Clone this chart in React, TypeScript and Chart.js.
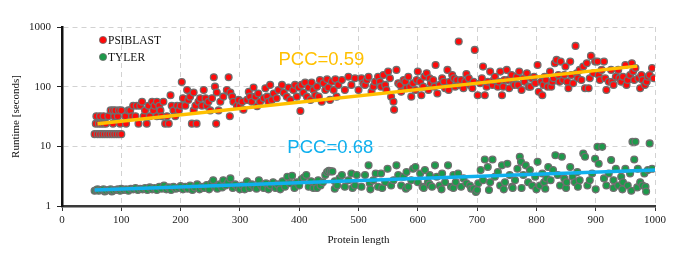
import { useEffect, useRef } from 'react';
import { Chart, registerables } from 'chart.js';

Chart.register(...registerables);

// ---- data ----
const xRange = [0, 1000];
const xStep = 100;
const yTickValues = [1, 10, 100, 1000];

const psiblastPoints: [number, number][] = [
  [55,16],[60,16],[64,16],[68,16],[72,16],[76,16],[80,16],[84,16],[88,16],[92,16],[96,16],[100,16],
  [57,24],[62,24],[66,24],[70,24],[74,24],[86,24],[98,24],
  [58,32],[64,32],[70,32],[78,32],[88,32],[94,32],
  [82,40],[86,40],[90,40],[96,40],[100,40],
  [107,32],[108,24],[112,40],[115,40],[118,32],[120,48],[124,32],[126,48],[129,24],[132,48],[135,56],[138,32],
  [140,40],[143,24],[146,48],[148,32],[152,56],[154,40],[156,48],[160,56],[160,32],[164,48],[166,40],[168,32],
  [171,56],[174,24],[177,32],[180,24],[183,72],[185,48],[188,40],[191,32],[194,48],[197,40],[200,48],
  [202,120],[204,64],[208,48],[211,88],[213,60],[216,68],[219,24],[222,40],[222,80],[225,48],[227,24],[230,56],
  [233,64],[236,48],[239,88],[242,64],[244,48],[247,56],[250,40],[253,64],[256,144],[258,100],[260,24],[261,80],
  [264,40],[267,56],[272,68],[278,88],[281,144],[283,32],[284,80],[287,68],[289,56],[295,48],[298,60],
  [300,47],[304,56],[306,41],[312,60],[315,82],[317,68],[320,56],[323,97],[326,68],[329,47],[331,77],[334,56],
  [340,64],[343,94],[346,68],[348,56],[351,107],[354,60],[357,77],[362,64],[365,88],[371,107],[374,79],[379,68],
  [382,97],[385,60],[390,88],[393,107],[396,68],[399,97],
  [402,39],[404,107],[407,79],[410,117],[413,68],[416,97],[419,60],[421,117],[424,88],[427,72],[430,100],[433,68],
  [435,129],[438,56],[441,114],[444,88],[447,133],[449,97],[452,60],[455,121],[458,88],[461,133],[463,68],[466,107],
  [472,129],[477,88],[483,147],[488,107],[494,138],[500,88],
  [505,138],[508,114],[511,107],[514,129],[517,147],[522,82],[525,100],[528,121],[533,147],[536,121],[538,100],
  [542,157],[545,107],[547,88],[550,179],[553,138],[555,68],[559,56],[560,41],[564,191],[567,114],[570,107],
  [572,82],[576,129],[579,121],[581,94],[584,147],[587,100],[589,68],[592,114],[596,88],[598,129],[600,179],
  [604,121],[606,72],[609,100],[611,147],[615,168],[618,88],[620,138],[622,114],[626,129],[628,100],[630,231],
  [633,77],[637,107],[641,138],[644,121],[646,94],[650,191],[652,88],[654,121],[658,157],[661,138],[663,100],
  [666,129],[669,570],[671,107],[673,129],[677,94],[680,121],[682,163],[686,138],[688,107],[692,94],[694,121],[696,413],
  [701,72],[705,114],[708,138],[710,217],[713,72],[716,100],[718,121],[722,179],[726,107],[728,129],[730,147],
  [735,100],[737,121],[739,179],[742,72],[744,100],[746,129],[750,191],[752,129],[754,94],[758,157],[761,121],
  [763,107],[767,147],[769,107],[771,179],[775,88],[778,138],[780,121],[784,168],[787,100],[790,100],[792,138],
  [796,147],[798,114],[802,231],
  [804,82],[808,121],[810,72],[812,107],[814,147],[816,129],[819,100],[823,179],[825,100],[827,121],[829,138],
  [831,247],[834,281],[837,157],[839,121],[841,263],[845,129],[847,157],[849,217],[852,121],[854,94],[857,263],
  [859,157],[862,114],[866,482],[868,168],[870,138],[873,191],[876,129],[879,217],[882,94],[885,247],[888,94],
  [890,138],[892,328],[896,168],[899,263],
  [903,263],[905,157],[907,129],[910,191],[914,263],[916,138],[918,88],[922,121],[926,191],[928,121],[930,107],
  [934,147],[938,191],[940,138],[943,121],[946,147],[950,231],[952,107],[954,129],[958,157],[961,247],[963,179],
  [965,129],[967,205],[972,138],[975,94],[977,157],[979,129],[983,107],[986,121],[988,147],[991,157],[995,205],[998,138]
];

const tylerPoints: [number, number][] = [
  [55,1.8],[58,1.85],[60,1.9],[62,1.8],[66,1.85],[70,1.9],[72,1.75],[74,1.8],[78,1.85],[82,1.9],[84,1.75],
  [86,1.8],[90,1.85],[94,1.9],[96,1.85],[98,1.8],[100,1.95],
  [104,1.85],[108,1.9],[112,1.8],[116,1.95],[120,1.9],[124,2.0],[128,1.85],[132,1.95],[136,1.9],[140,2.0],
  [144,1.85],[148,2.05],[152,1.9],[156,2.0],[160,1.85],[164,2.1],[168,1.95],[172,2.2],[176,1.9],[180,2.05],
  [184,1.85],[188,2.1],[192,1.95],[196,2.0],[200,2.15],
  [204,1.9],[208,2.1],[212,1.95],[216,2.2],[220,1.85],[224,2.05],[228,2.3],[232,1.9],[236,2.1],[240,2.0],
  [244,2.25],[248,1.9],[252,2.4],[255,2.7],[258,2.1],[262,1.95],[266,2.3],[270,2.05],[272,2.7],[276,2.2],
  [280,2.5],[284,2.9],[288,2.0],[292,2.3],[296,2.1],[300,1.9],
  [304,2.2],[308,1.9],[312,2.6],[316,2.0],[320,2.3],[324,2.1],[328,1.95],[332,2.7],[336,2.2],[340,2.0],
  [344,2.4],[348,1.9],[352,2.2],[356,2.5],[360,2.0],[364,2.3],[368,1.9],[372,2.6],[376,2.1],[380,3.1],
  [384,2.4],[388,3.2],[392,2.0],[396,2.5],[400,2.2],
  [404,2.8],[408,3.0],[412,3.3],[416,2.1],[420,2.6],[424,2.0],[428,2.4],[430,2.0],[432,2.7],[436,2.2],[440,2.5],
  [444,3.3],[447,3.7],[450,3.9],[453,3.8],[456,3.8],[460,2.6],[460,1.95],[464,2.2],[468,2.9],
  [472,3.3],[477,2.1],[483,2.7],[488,3.5],[490,2.0],[494,2.2],[497,3.3],
  [505,2.1],[511,3.3],[517,4.8],[519,2.4],[520,1.9],[525,2.7],[529,3.5],[533,2.1],[538,3.5],[540,2.0],[545,2.5],
  [549,4.2],[555,2.2],[559,2.7],[564,4.8],[567,3.3],[572,2.2],[576,3.1],[580,1.95],[581,3.7],[584,2.1],[589,2.7],
  [592,4.2],[596,4.5],[600,2.5],
  [604,3.5],[608,2.1],[610,2.0],[612,4.0],[617,2.5],[620,3.3],[620,2.3],[624,2.1],[629,4.8],[632,3.1],[637,2.2],
  [640,1.9],[641,3.5],[646,2.5],[651,4.8],[656,2.1],[660,3.3],[660,2.0],[664,2.5],[668,3.5],[673,2.1],[677,2.9],
  [682,2.4],[688,2.2],[690,1.95],[694,1.95],[698,1.72],
  [700,1.85],[702,2.4],[706,4.0],[710,2.7],[713,6.0],[718,4.5],[720,1.85],[722,2.5],[726,6.0],[730,3.1],[735,3.7],
  [739,2.2],[742,4.8],[745,1.9],[747,2.5],[751,5.1],[755,3.3],[759,2.1],[760,2.0],[764,2.7],[768,4.2],[772,6.7],
  [774,5.5],[775,2.0],[778,3.3],[782,4.8],[786,2.5],[789,4.0],[793,2.2],[798,3.1],
  [800,1.9],[802,5.5],[806,2.2],[810,3.5],[813,2.5],[815,1.95],[817,2.9],[820,4.5],[824,2.7],[828,4.0],[832,7.1],
  [836,3.3],[840,2.2],[843,6.7],[847,2.9],[850,2.0],[851,2.5],[857,4.5],[861,3.1],[865,2.5],[869,3.7],[870,2.1],
  [873,2.7],[879,7.6],[882,6.7],[886,2.2],[890,2.7],[894,3.5],[899,6.2],
  [900,1.9],[903,9.8],[905,5.1],[911,9.8],[914,2.9],[918,2.2],[922,3.5],[926,5.9],[930,2.7],[930,2.0],[934,4.2],
  [938,2.2],[943,3.1],[945,1.9],[946,2.5],[950,4.2],[954,2.2],[958,3.5],[960,1.8],[962,11.9],[965,6.0],[967,11.9],
  [970,2.05],[971,4.2],[975,2.5],[979,2.2],[982,3.5],[984,2.1],[985,1.75],[988,4.0],[991,11.2],[995,4.2]
];

const psiblastTrend: [number, number][] = [[60, 24], [970, 221]];
const tylerTrend: [number, number][] = [[55, 1.85], [1000, 4.0]];

const seriesNames = ['PSIBLAST', 'TYLER'];
const pccTexts = ['PCC=0.59', 'PCC=0.68'];
const pccAnchors: [number, number][] = [[365, 281], [380, 9.3]];

// ---- styles ----
const RED = '#ff0a0a';
const GREEN = '#1c9a4a';
const POINT_BORDER = '#6f6f6f';
const ORANGE = '#ffc000';
const BLUE = '#0fb0ee';
const SERIF = '"Liberation Serif", "Times New Roman", serif';
const SANS = '"Liberation Sans", Arial, sans-serif';

const toXY = (arr: [number, number][]) => arr.map(([x, y]) => ({ x, y }));

const overlayPlugin = {
  id: 'overlay',
  afterDatasetsDraw(chart: any) {
    const { ctx, chartArea, scales } = chart;
    ctx.save();
    // PCC labels
    ctx.font = `18.5px ${SANS}`;
    ctx.textAlign = 'left';
    ctx.textBaseline = 'middle';
    const colors = [ORANGE, BLUE];
    pccTexts.forEach((t, i) => {
      ctx.fillStyle = colors[i];
      ctx.fillText(t, scales.x.getPixelForValue(pccAnchors[i][0]), scales.y.getPixelForValue(pccAnchors[i][1]));
    });
    // legend
    const fills = [RED, GREEN];
    ctx.font = `11.5px ${SERIF}`;
    seriesNames.forEach((name, i) => {
      const cx = chartArea.left + 41;
      const cy = chartArea.top + 13 + i * 17;
      ctx.beginPath();
      ctx.arc(cx, cy, 3.6, 0, Math.PI * 2);
      ctx.fillStyle = fills[i];
      ctx.fill();
      ctx.lineWidth = 0.8;
      ctx.strokeStyle = POINT_BORDER;
      ctx.stroke();
      ctx.fillStyle = '#111';
      ctx.fillText(name, cx + 5, cy + 0.5);
    });
    ctx.restore();
  },
};

export default function App() {
  const ref = useRef<HTMLCanvasElement>(null);
  useEffect(() => {
    document.body.style.margin = '0';
    const chart = new Chart(ref.current as HTMLCanvasElement, {
      type: 'scatter',
      data: {
        datasets: [
          {
            label: 'PSIBLAST fit',
            data: toXY(psiblastTrend),
            showLine: true,
            borderColor: ORANGE,
            borderWidth: 3.5,
            pointRadius: 0,
            order: 0,
          },
          {
            label: 'TYLER fit',
            data: toXY(tylerTrend),
            showLine: true,
            borderColor: BLUE,
            borderWidth: 3.5,
            pointRadius: 0,
            order: 0,
          },
          {
            label: seriesNames[0],
            data: toXY(psiblastPoints),
            backgroundColor: RED,
            borderColor: POINT_BORDER,
            borderWidth: 1.3,
            pointRadius: 3.4,
            order: 1,
          },
          {
            label: seriesNames[1],
            data: toXY(tylerPoints),
            backgroundColor: GREEN,
            borderColor: POINT_BORDER,
            borderWidth: 1.3,
            pointRadius: 3.4,
            order: 1,
          },
        ],
      },
      options: {
        animation: false,
        responsive: false,
        maintainAspectRatio: false,
        layout: { padding: { top: 27, right: 23, left: 0, bottom: 0 } },
        plugins: { legend: { display: false }, tooltip: { enabled: false } },
        scales: {
          x: {
            type: 'linear',
            min: xRange[0],
            max: xRange[1],
            ticks: {
              stepSize: xStep,
              callback: (v: any) => String(v),
              font: { family: SERIF, size: 11 },
              color: '#222',
              padding: 3,
              maxRotation: 0,
            },
            grid: { color: '#d2d2d2', tickColor: '#333', tickLength: 5, lineWidth: 1 },
            border: { color: '#3a3a3a', width: 2.5, dash: [5, 4] },
            title: {
              display: true,
              text: 'Protein length',
              font: { family: SERIF, size: 11 },
              color: '#111',
              padding: { top: 0, bottom: 9 },
            },
            afterFit: (s: any) => {
              s.height = 50;
            },
          },
          y: {
            type: 'logarithmic',
            min: yTickValues[0],
            max: yTickValues[yTickValues.length - 1],
            afterBuildTicks: (s: any) => {
              s.ticks = yTickValues.map((v) => ({ value: v }));
            },
            ticks: {
              callback: (v: any) => String(v),
              font: { family: SERIF, size: 11 },
              color: '#222',
              padding: 6,
            },
            grid: { color: '#d2d2d2', tickColor: '#222', tickLength: 5, lineWidth: 1 },
            border: { color: '#111', width: 2.5, dash: [5, 4] },
            title: {
              display: true,
              text: 'Runtime [seconds]',
              font: { family: SERIF, size: 11 },
              color: '#111',
              padding: { top: 10, bottom: 0 },
            },
            afterFit: (s: any) => {
              s.width = 62;
            },
          },
        },
      } as any,
      plugins: [overlayPlugin],
    });
    return () => chart.destroy();
  }, []);
  return <canvas ref={ref} width={678} height={256} style={{ display: 'block' }} />;
}
